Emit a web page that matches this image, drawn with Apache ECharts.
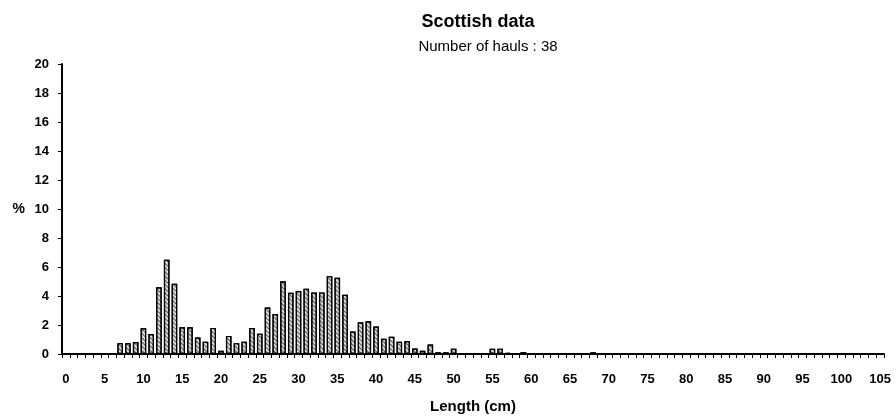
<!DOCTYPE html>
<html>
<head>
<meta charset="utf-8">
<script src="https://cdn.jsdelivr.net/npm/echarts@6/dist/echarts.min.js"></script>
<style>
  html, body { margin: 0; padding: 0; background: #fff; }
  #chart { width: 896px; height: 419px; }
</style>
</head>
<body>
<div id="chart"></div>
<script>
// Length classes (cm), one bar per centimetre from 0 to 105
const lengths = Array.from({ length: 106 }, (_, i) => String(i));

// Percentage of fish per length class
const percentValues = [
  0, 0, 0, 0, 0, 0, 0, 0.75, 0.75, 0.82,          // 0-9
  1.78, 1.38, 4.6, 6.5, 4.84, 1.85, 1.85, 1.14, 0.84, 1.8, // 10-19
  0.23, 1.25, 0.75, 0.84, 1.8, 1.4, 3.2, 2.76, 5.02, 4.22, // 20-29
  4.34, 4.5, 4.25, 4.25, 5.37, 5.25, 4.09, 1.55, 2.19, 2.26, // 30-39
  1.9, 1.05, 1.19, 0.84, 0.9, 0.38, 0.22, 0.66, 0.12, 0.12, // 40-49
  0.37, 0.05, 0.05, 0.05, 0.05, 0.37, 0.37, 0.08, 0.03, 0.14, // 50-59
  0, 0, 0, 0, 0, 0, 0, 0, 0.12, 0,                 // 60-69
  0, 0, 0, 0, 0, 0, 0, 0, 0, 0,                    // 70-79
  0, 0, 0, 0, 0, 0, 0, 0, 0, 0,                    // 80-89
  0, 0, 0, 0, 0, 0, 0, 0, 0, 0,                    // 90-99
  0, 0, 0, 0, 0, 0                                 // 100-105
];

const yTicks = { min: 0, max: 20, interval: 2 };

const FONT = '"Liberation Sans", Arial, Helvetica, sans-serif';

const chart = echarts.init(document.getElementById('chart'), null, { renderer: 'canvas' });

chart.setOption({
  animation: false,
  backgroundColor: '#ffffff',
  title: [
    {
      text: 'Scottish data',
      left: 473, top: 8, textAlign: 'center',
      textStyle: { fontFamily: FONT, fontWeight: 'bold', fontSize: 18, color: '#000' }
    },
    {
      text: 'Number of hauls : 38',
      left: 483, top: 34, textAlign: 'center',
      textStyle: { fontFamily: FONT, fontWeight: 'normal', fontSize: 15, color: '#000' }
    }
  ],
  grid: { left: 62, right: 12, top: 64, bottom: 63, containLabel: false },
  xAxis: {
    type: 'category',
    data: lengths,
    boundaryGap: true,
    name: 'Length (cm)',
    nameLocation: 'middle',
    nameGap: 45,
    nameTextStyle: { fontFamily: FONT, fontWeight: 'bold', fontSize: 15, color: '#000' },
    axisLine: { lineStyle: { color: '#000', width: 2 } },
    axisTick: { show: true, interval: 0, length: 4, inside: false, lineStyle: { color: '#000', width: 1 } },
    axisLabel: {
      interval: 4, margin: 19,
      fontFamily: FONT, fontWeight: 'bold', fontSize: 13, color: '#000'
    },
    splitLine: { show: false }
  },
  yAxis: {
    type: 'value',
    min: yTicks.min, max: yTicks.max, interval: yTicks.interval,
    name: '%',
    nameLocation: 'middle',
    nameRotate: 0,
    nameGap: 37,
    nameTextStyle: { fontFamily: FONT, fontWeight: 'bold', fontSize: 14, color: '#000' },
    axisLine: { show: true, lineStyle: { color: '#000', width: 2 } },
    axisTick: { show: true, length: 4, lineStyle: { color: '#000', width: 1 } },
    axisLabel: { margin: 13, fontFamily: FONT, fontWeight: 'bold', fontSize: 13, color: '#000' },
    splitLine: { show: false }
  },
  series: [
    {
      type: 'bar',
      data: percentValues,
      barCategoryGap: '28%',
      itemStyle: {
        color: '#dcdcdc',
        borderColor: '#000',
        borderWidth: 1.2,
        decal: {
          symbol: 'rect',
          symbolSize: 1,
          color: 'rgba(0,0,0,0.6)',
          dashArrayX: [1, 0],
          dashArrayY: [1, 2],
          rotation: Math.PI / 4
        }
      }
    }
  ]
});
</script>
</body>
</html>
